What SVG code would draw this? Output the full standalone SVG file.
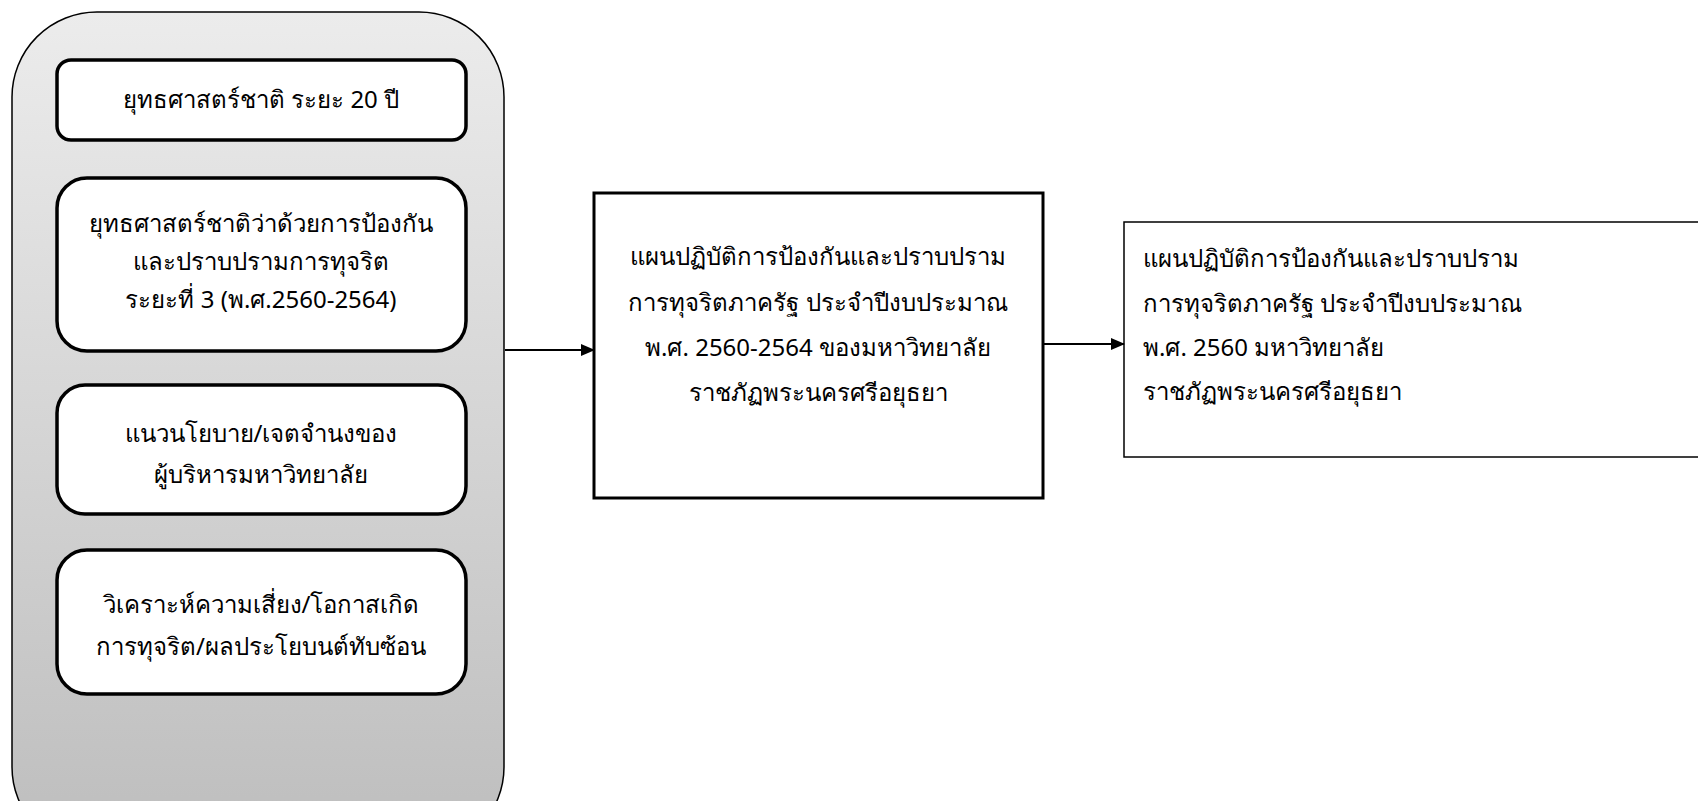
<svg xmlns="http://www.w3.org/2000/svg" width="1698" height="801" viewBox="0 0 1698 801">
<style>
text{font-family:"Noto Sans","DejaVu Sans",sans-serif;font-size:24px;fill:#000;text-anchor:middle}
.inner{fill:#fff;stroke:#000;stroke-width:3.5}
.l{text-anchor:start}
.conn{stroke:#000;stroke-width:2;fill:none}
</style>
<defs>
<linearGradient id="g" x1="0" y1="0" x2="0" y2="1">
<stop offset="0" stop-color="#ececec"/>
<stop offset="1" stop-color="#bdbdbd"/>
</linearGradient>
<marker id="ah" markerWidth="14" markerHeight="14" refX="13" refY="7" orient="auto" markerUnits="userSpaceOnUse">
<path d="M0,1 L14,7 L0,13 z" fill="#000"/>
</marker>
</defs>
<g id="container">
<rect x="12" y="12" width="492" height="840" rx="85" ry="85" fill="url(#g)" stroke="#000" stroke-width="1.5"/>
</g>
<g id="n1">
<rect class="inner" x="57" y="60" width="409" height="80" rx="14"/>
<text x="261" y="108">ยุทธศาสตร์ชาติ ระยะ 20 ปี</text>
</g>
<g id="n2">
<rect class="inner" x="57" y="178" width="409" height="173" rx="30"/>
<text x="261" y="232">ยุทธศาสตร์ชาติว่าด้วยการป้องกัน</text>
<text x="261" y="270">และปราบปรามการทุจริต</text>
<text x="261" y="308">ระยะที่ 3 (พ.ศ.2560-2564)</text>
</g>
<g id="n3">
<rect class="inner" x="57" y="385" width="409" height="129" rx="28"/>
<text x="261" y="442">แนวนโยบาย/เจตจำนงของ</text>
<text x="261" y="483">ผู้บริหารมหาวิทยาลัย</text>
</g>
<g id="n4">
<rect class="inner" x="57" y="550" width="409" height="144" rx="30"/>
<text x="261" y="613">วิเคราะห์ความเสี่ยง/โอกาสเกิด</text>
<text x="261" y="655">การทุจริต/ผลประโยบนต์ทับซ้อน</text>
</g>
<g id="n5">
<rect x="594" y="193" width="449" height="305" fill="#fff" stroke="#000" stroke-width="3"/>
<text x="818" y="265">แผนปฏิบัติการป้องกันและปราบปราม</text>
<text x="818" y="311">การทุจริตภาครัฐ ประจำปีงบประมาณ</text>
<text x="818" y="356">พ.ศ. 2560-2564 ของมหาวิทยาลัย</text>
<text x="818" y="401">ราชภัฏพระนครศรีอยุธยา</text>
</g>
<g id="n6">
<rect x="1124" y="222" width="590" height="235" fill="#fff" stroke="#000" stroke-width="1.5"/>
<text class="l" x="1143" y="267">แผนปฏิบัติการป้องกันและปราบปราม</text>
<text class="l" x="1143" y="312">การทุจริตภาครัฐ ประจำปีงบประมาณ</text>
<text class="l" x="1143" y="356">พ.ศ. 2560 มหาวิทยาลัย</text>
<text class="l" x="1143" y="400">ราชภัฏพระนครศรีอยุธยา</text>
</g>
<g id="connectors">
<line class="conn" x1="505" y1="350" x2="594" y2="350" marker-end="url(#ah)"/>
<line class="conn" x1="1044" y1="344" x2="1124" y2="344" marker-end="url(#ah)"/>
</g>
</svg>
